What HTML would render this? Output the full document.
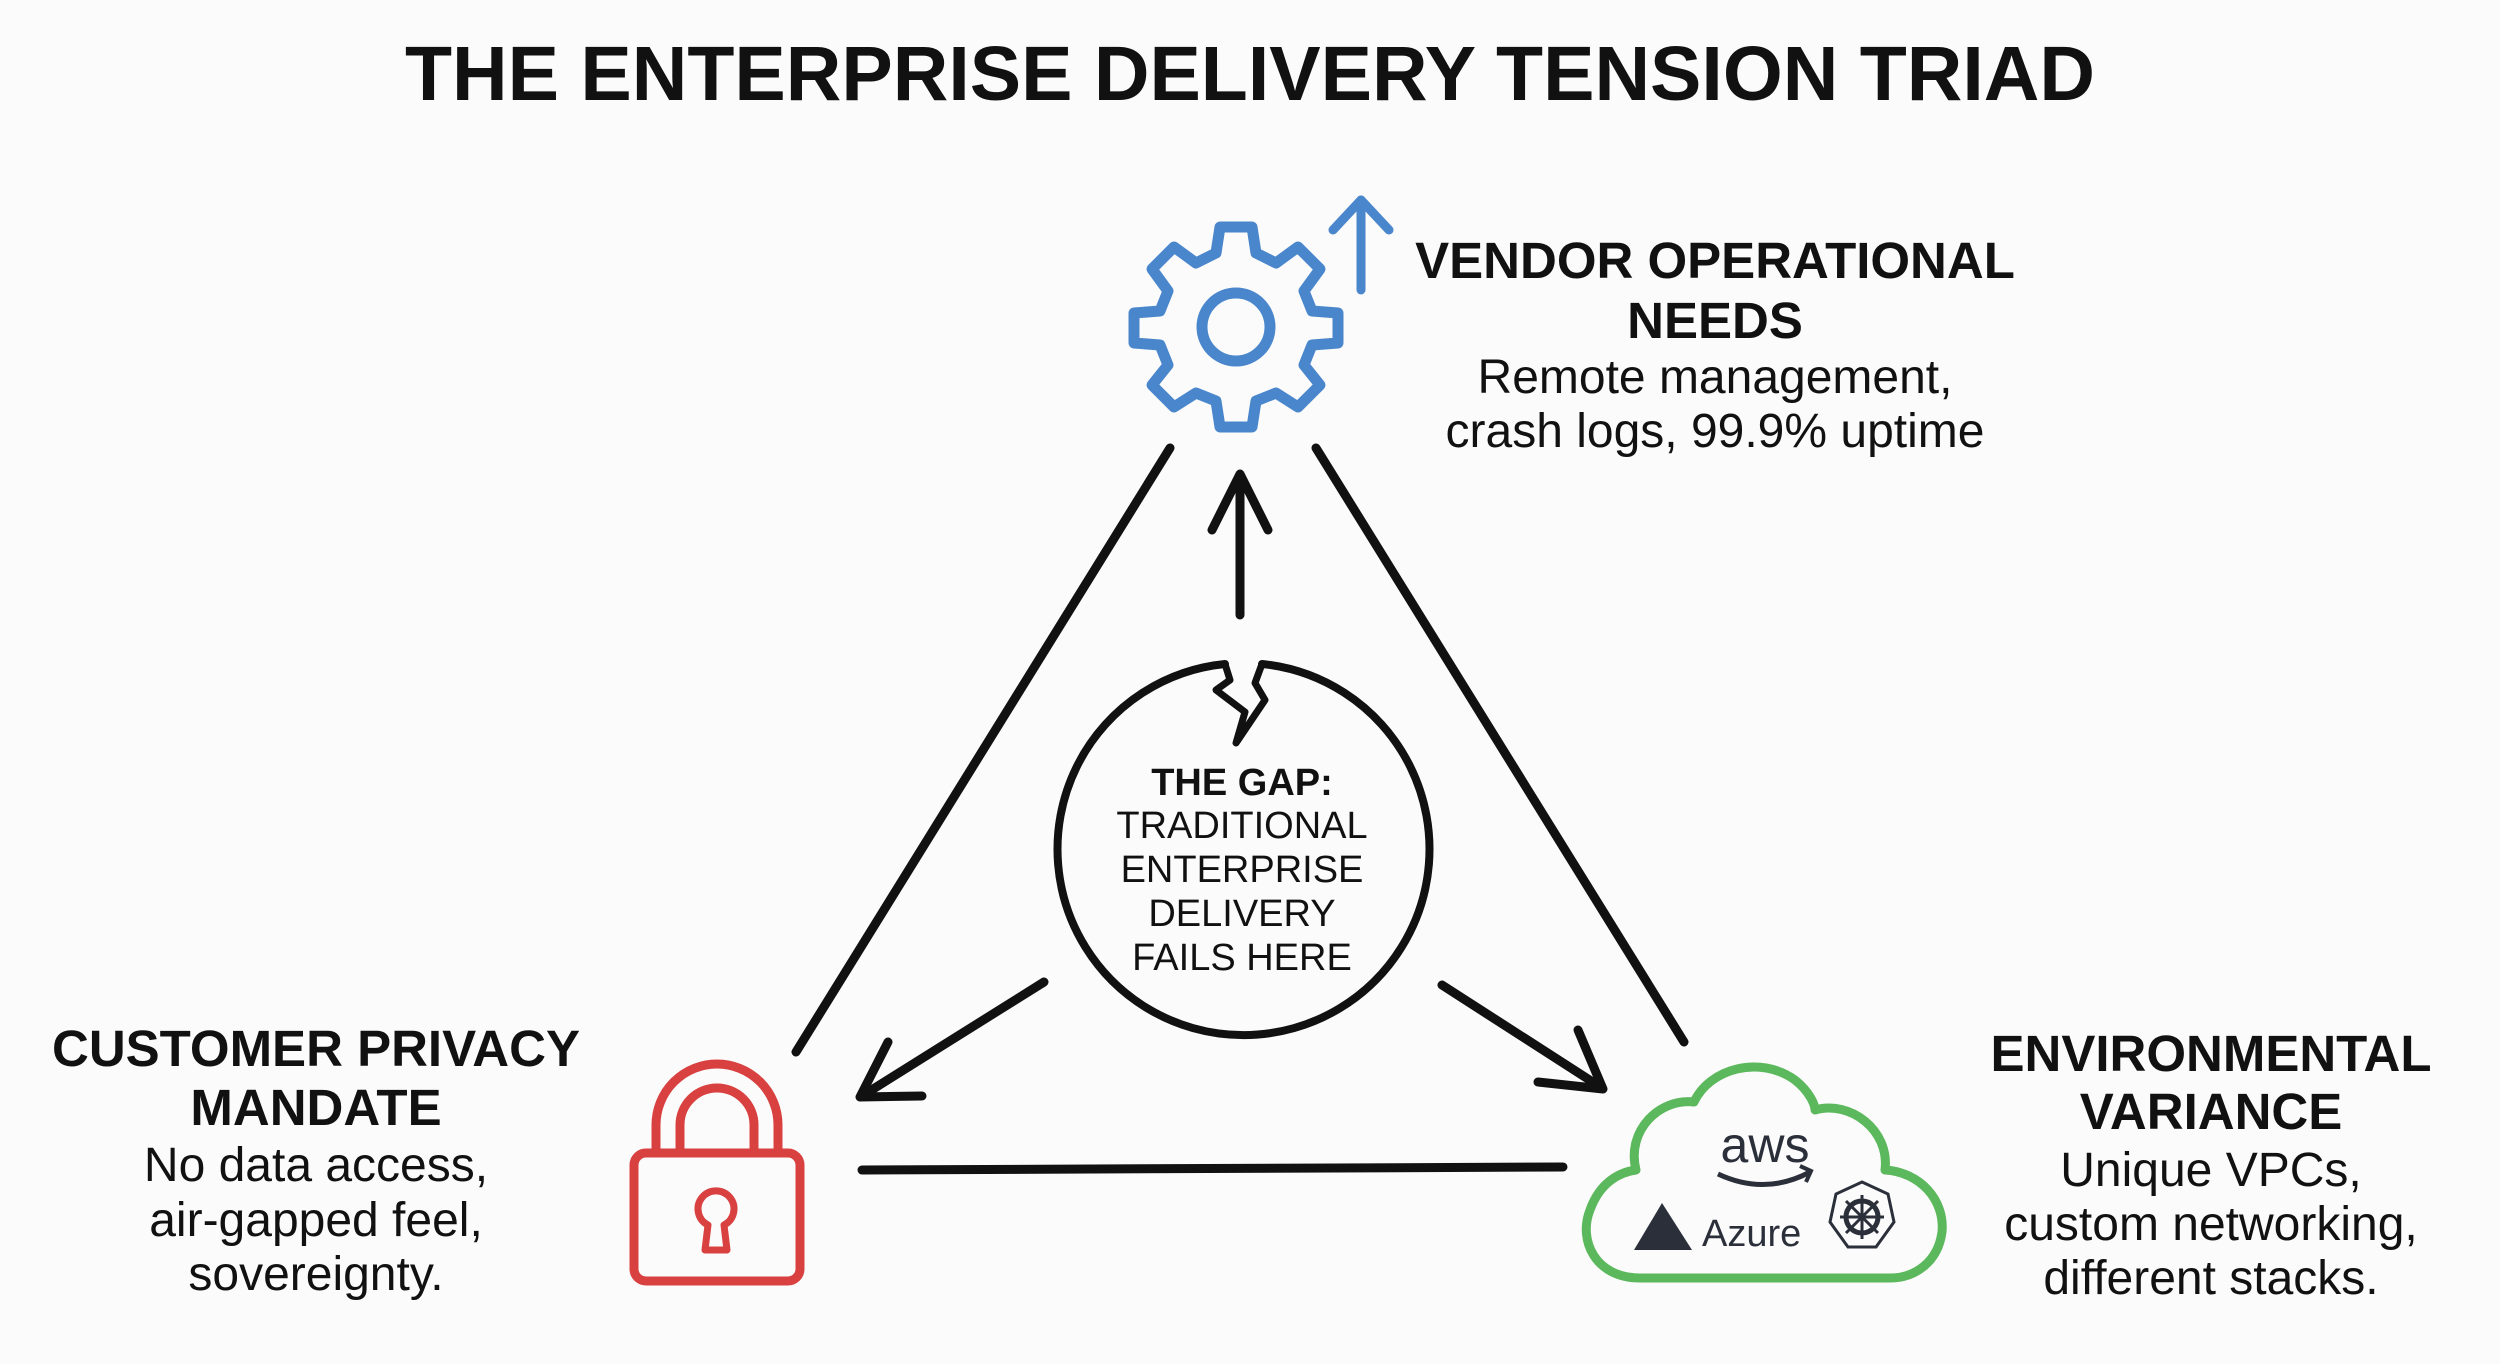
<!DOCTYPE html>
<html><head><meta charset="utf-8"><style>
html,body{margin:0;padding:0;background:#fbfbfb;}
svg{display:block;}
</style></head><body>
<svg width="2500" height="1364" viewBox="0 0 2500 1364" xmlns="http://www.w3.org/2000/svg">
<rect width="2500" height="1364" fill="#fbfbfb"/>
<text x="1250" y="100" text-anchor="middle" font-family="Liberation Sans, sans-serif" font-weight="bold" font-size="77" fill="#111">THE ENTERPRISE DELIVERY TENSION TRIAD</text>

<!-- gear -->
<g transform="translate(1236,327)" fill="none" stroke="#4a86cc" stroke-width="11" stroke-linejoin="round">
<path d="M-16,-100 L16,-100 L20,-74 L40,-64 L62,-80 L84,-58 L68,-36 L76,-16 L102,-14 L102,16 L76,18 L68,38 L84,58 L62,80 L40,66 L20,74 L16,100 L-16,100 L-20,74 L-40,66 L-62,80 L-84,58 L-68,38 L-76,18 L-102,16 L-102,-14 L-76,-16 L-68,-36 L-84,-58 L-62,-80 L-40,-64 L-20,-74 Z"/>
<circle r="34"/>
</g>
<g stroke="#4a86cc" stroke-width="9" fill="none" stroke-linecap="round" stroke-linejoin="round">
<line x1="1361" y1="290" x2="1361" y2="200"/>
<polyline points="1333,230 1361,200 1389,230"/>
</g>

<g font-family="Liberation Sans, sans-serif" fill="#111" text-anchor="middle">
<text x="1715" y="278" font-weight="bold" font-size="51">VENDOR OPERATIONAL</text>
<text x="1715" y="338" font-weight="bold" font-size="51">NEEDS</text>
<text x="1715" y="393" font-size="48">Remote management,</text>
<text x="1715" y="447" font-size="48">crash logs, 99.9% uptime</text>

<text x="316" y="1066" font-weight="bold" font-size="51">CUSTOMER PRIVACY</text>
<text x="316" y="1125" font-weight="bold" font-size="51">MANDATE</text>
<text x="316" y="1181" font-size="48">No data access,</text>
<text x="316" y="1236" font-size="48">air-gapped feel,</text>
<text x="316" y="1290" font-size="48">sovereignty.</text>

<text x="2211" y="1071" font-weight="bold" font-size="51">ENVIRONMENTAL</text>
<text x="2211" y="1129" font-weight="bold" font-size="51">VARIANCE</text>
<text x="2211" y="1186" font-size="48">Unique VPCs,</text>
<text x="2211" y="1240" font-size="48">custom networking,</text>
<text x="2211" y="1294" font-size="48">different stacks.</text>
</g>

<!-- triangle lines -->
<g stroke="#111" stroke-width="9" stroke-linecap="round" fill="none" stroke-linejoin="round">
<line x1="1170" y1="448" x2="796" y2="1052"/>
<line x1="1316" y1="448" x2="1684" y2="1042"/>
<line x1="862" y1="1170" x2="1563" y2="1167"/>
<line x1="1240" y1="615" x2="1240" y2="475"/>
<polyline points="1212,530 1240,474 1268,530"/>
<line x1="1044" y1="982" x2="862" y2="1096"/>
<polyline points="888,1042 860,1097 922,1096"/>
<line x1="1442" y1="985" x2="1602" y2="1088"/>
<polyline points="1538,1082 1603,1089 1578,1030"/>
<path d="M1262,664 A186,186 0 1 1 1225,664" stroke-width="8"/>
<path d="M1225,664 L1230,680 L1216,690 L1245,712 L1236,743 L1265,700 L1255,683 L1262,664" stroke-width="7"/>
</g>

<g font-family="Liberation Sans, sans-serif" fill="#111" text-anchor="middle" font-size="38">
<text x="1242" y="795" font-weight="bold">THE GAP:</text>
<text x="1242" y="838">TRADITIONAL</text>
<text x="1242" y="882">ENTERPRISE</text>
<text x="1242" y="926">DELIVERY</text>
<text x="1242" y="970">FAILS HERE</text>
</g>

<!-- lock -->
<g fill="none" stroke="#d94040" stroke-width="9" stroke-linejoin="round">
<path d="M656,1150 L656,1125 A61,61 0 0 1 778,1125 L778,1150"/>
<path d="M680,1150 L680,1125 A37,37 0 0 1 754,1125 L754,1150"/>
<rect x="634" y="1153" width="166" height="128" rx="12"/>
<path d="M708,1225 A18,18 0 1 1 724,1225 L727,1250 L705,1250 Z" stroke-width="7"/>
</g>

<!-- cloud -->
<path d="M1640,1278 C1595,1278 1578,1240 1590,1210 C1600,1182 1620,1172 1636,1170 C1626,1130 1660,1098 1694,1102 C1710,1068 1760,1055 1795,1080 C1810,1092 1815,1105 1815,1110 C1850,1100 1890,1130 1885,1170 C1920,1172 1945,1200 1942,1232 C1938,1262 1915,1278 1890,1278 Z" fill="none" stroke="#5cb85c" stroke-width="9" stroke-linejoin="round"/>
<text x="1765" y="1162" text-anchor="middle" font-family="Liberation Sans, sans-serif" font-size="50" fill="#2a2f3a">aws</text>
<path d="M1718,1174 Q1765,1196 1810,1172" fill="none" stroke="#2a2f3a" stroke-width="5"/>
<path d="M1800,1166 L1811,1171 L1806,1182" fill="none" stroke="#2a2f3a" stroke-width="4"/>
<path d="M1634,1250 L1662,1203 L1692,1250 Z" fill="#2a2f3a"/>
<text x="1702" y="1246" font-family="Liberation Sans, sans-serif" font-size="38" fill="#2a2f3a">Azure</text>
<path d="M1862,1182 L1888,1194 L1894,1222 L1876,1247 L1848,1247 L1830,1222 L1836,1194 Z" fill="none" stroke="#2a2f3a" stroke-width="3"/>
<circle cx="1862" cy="1217" r="16" fill="none" stroke="#2a2f3a" stroke-width="5"/>
<g stroke="#2a2f3a" stroke-width="3"><line x1="1862" y1="1195" x2="1862" y2="1239"/><line x1="1840" y1="1217" x2="1884" y2="1217"/><line x1="1846" y1="1201" x2="1878" y2="1233"/><line x1="1878" y1="1201" x2="1846" y2="1233"/></g>
</svg>
</body></html>
